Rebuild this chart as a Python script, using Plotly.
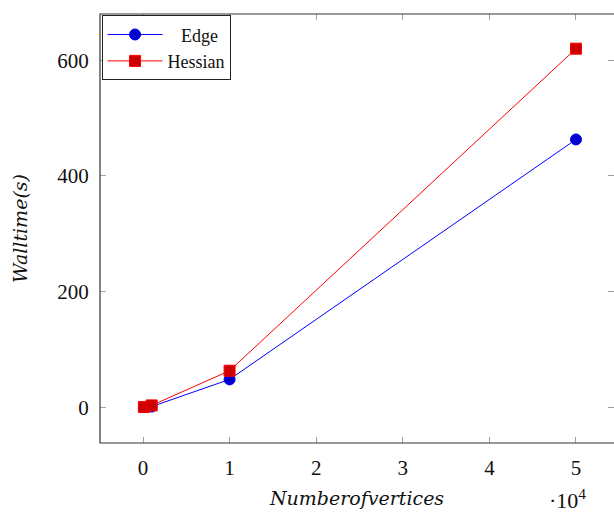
import plotly.graph_objects as go

# Wall time versus mesh size for the two assembly methods
vertices = [100, 1000, 10000, 50000]
edge_time = [0.2, 1.0, 48, 463]
hessian_time = [0.3, 3.0, 63, 620]

x_tickvals = [0, 10000, 20000, 30000, 40000, 50000]
x_ticktext = ["0", "1", "2", "3", "4", "5"]
y_tickvals = [0, 200, 400, 600]
y_ticktext = ["0", "200", "400", "600"]

SERIF = "Liberation Serif, DejaVu Serif, serif"
ITALIC = "DejaVu Serif, serif"

fig = go.Figure()
fig.add_trace(go.Scatter(
    x=vertices, y=edge_time, name="\u00a0\u00a0\u00a0Edge", mode="lines+markers",
    line=dict(color="#0000ff", width=1),
    marker=dict(symbol="circle", size=11, color="#0000cc",
                line=dict(color="#0000ff", width=1)),
))
fig.add_trace(go.Scatter(
    x=vertices, y=hessian_time, name="Hessian", mode="lines+markers",
    line=dict(color="#ff0000", width=1),
    marker=dict(symbol="square", size=11, color="#cc0000",
                line=dict(color="#ff0000", width=1)),
))

axis_common = dict(
    ticks="inside", ticklen=6, tickwidth=1, tickcolor="#a0a0a0",
    showgrid=False, zeroline=False, showline=True,
    linecolor="rgba(0,0,0,0)", mirror="ticks",
    tickfont=dict(family=SERIF, size=21, color="#111"),
)

fig.update_xaxes(
    range=[-4965, 54390], tickmode="array",
    tickvals=x_tickvals, ticktext=x_ticktext,
    ticklabelstandoff=6,
    title=dict(text="<i>Numberofvertices</i>",
               font=dict(family=ITALIC, size=19, color="#111"), standoff=12),
    **axis_common,
)
fig.update_yaxes(
    range=[-62, 680], tickmode="array",
    tickvals=y_tickvals, ticktext=y_ticktext,
    ticklabelstandoff=6,
    title=dict(text="<i>Walltime(s)</i>",
               font=dict(family=ITALIC, size=19, color="#111"), standoff=24),
    **axis_common,
)

# Frame: the right edge runs past the page, so only three sides show
fig.add_shape(type="rect", xref="paper", yref="paper",
              x0=0, x1=1.02, y0=0, y1=1,
              line=dict(color="#333", width=1.2), layer="above")

# Axis scale factor
fig.add_annotation(text="·10<sup>4</sup>", xref="paper", yref="paper",
                   x=0.91, y=-0.13, xanchor="center", yanchor="middle",
                   showarrow=False,
                   font=dict(family=SERIF, size=22, color="#111"))

fig.update_layout(
    width=614, height=513,
    margin=dict(l=100, r=0, t=14, b=70),
    paper_bgcolor="white", plot_bgcolor="white",
    legend=dict(x=0.003, y=0.997, xanchor="left", yanchor="top",
                bgcolor="white", bordercolor="#222", borderwidth=1,
                font=dict(family=SERIF, size=18, color="#111"),
                itemwidth=55, tracegroupgap=0),
    showlegend=True,
)

fig.write_html("out.html")
